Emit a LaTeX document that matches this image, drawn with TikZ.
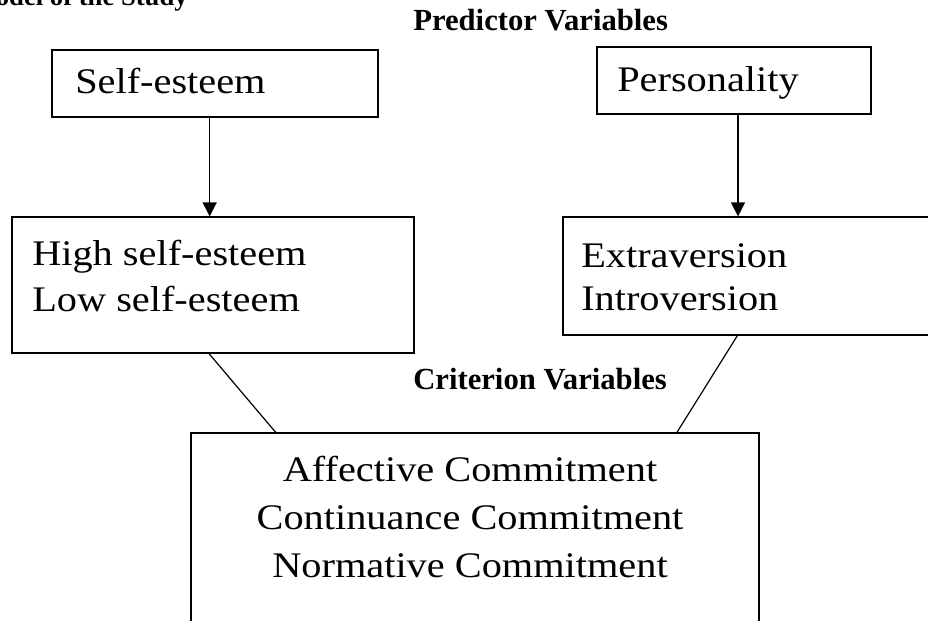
\documentclass[tikz,border=0pt]{standalone}
\usepackage{fontspec}
\setmainfont{Liberation Serif}
\newfontfamily\boxfont{Liberation Serif}[FakeStretch=1.12]
\usetikzlibrary{arrows.meta,fit,calc}

\begin{document}
\begin{tikzpicture}[x=0.75pt,y=-0.75pt,
  box/.style={draw,line width=0.9pt,inner sep=0pt},
  arr/.style={line width=0.9pt,-{Triangle[length=10.5pt,width=10.5pt]}},
  con/.style={line width=0.9pt},
  txt/.style={anchor=base west,inner sep=0pt,font=\boxfont\fontsize{27}{36}\selectfont},
  ctxt/.style={anchor=base,inner sep=0pt,font=\boxfont\fontsize{27}{36}\selectfont},
  lbl/.style={anchor=base west,inner sep=0pt,font=\fontsize{23}{27}\selectfont\bfseries}]
\useasboundingbox (0,0) rectangle (928,621);
\clip (0,0) rectangle (928,621);

\node[lbl,anchor=base east,font=\fontsize{20}{24}\selectfont\bfseries] (title) at (188,5) {Model of the Study};
\node[lbl] (pred) at (413,31) {Predictor Variables};
\node[lbl] (crit) at (413,389) {Criterion Variables};

% predictor boxes
\node[box,fit={(52,50) (378,117)}] (se) {};
\node[txt] (setxt) at (75,93) {Self-esteem};
\node[box,fit={(597,47) (871,114)}] (pers) {};
\node[txt] (perstxt) at (617,91) {Personality};

\node[box,fit={(12,217) (414,353)}] (hls) {};
\node[txt] (high) at (32,265) {High self-esteem};
\node[txt] (low) at (32,311) {Low self-esteem};
\node[box,fit={(563,217) (945,335)}] (ei) {};
\node[txt] (extra) at (581,267) {Extraversion};
\node[txt] (intro) at (581,310) {Introversion};

% criterion box
\node[box,fit={(191,433) (759,700)}] (comm) {};
\node[ctxt] (aff) at (470,481) {Affective Commitment};
\node[ctxt] (cont) at (470,529) {Continuance Commitment};
\node[ctxt] (norm) at (470,577) {Normative Commitment};

\draw[arr] ([xshift=-4]se.south) -- ([xshift=-4]se.south |- hls.north);
\draw[arr] ([xshift=3]pers.south) -- ([xshift=3]pers.south |- ei.north);

\draw[con] ([xshift=-3]hls.south) -- ([xshift=64]comm.north west);
\draw[con] ($(ei.south west)+(175,0)$) -- ([xshift=-62]comm.north east);
\end{tikzpicture}
\end{document}
